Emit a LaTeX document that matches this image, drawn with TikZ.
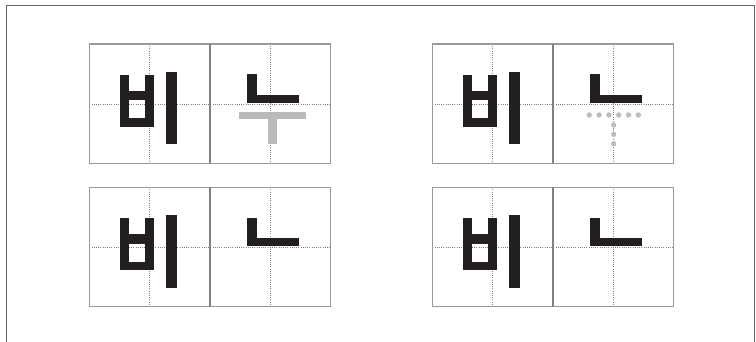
\documentclass[tikz,border=0pt]{standalone}
\definecolor{ink}{HTML}{231F20}
\tikzset{
  glyph/.style={fill=ink},
  ghost/.style={fill=black!27},
  gdot/.style={fill=black!26},
  cell/.style={draw=black!40, line width=1.2pt},
  divider/.style={draw=black!50, line width=1.8pt},
  guide/.style={draw=black!50, line width=0.5pt, dash pattern=on 0.8pt off 1.4pt},
  frame/.style={draw=black!60, line width=1.5pt},
  pics/panel/.style={code={
    % guides
    \draw[guide] (60,0) -- (60,119.5);
    \draw[guide] (181,0) -- (181,119.5);
    \draw[guide] (0,60) -- (241,60);
    % cells
    \draw[cell] (0,0) rectangle (241,119.5);
    \draw[divider] (120.5,0) -- (120.5,119.5);
    % bi
    \fill[glyph] (30.7,31) rectangle (40,82.7);
    \fill[glyph] (56,31) rectangle (64.9,82.7);
    \fill[glyph] (30.7,47) rectangle (64.9,56.3);
    \fill[glyph] (30.7,74.3) rectangle (64.9,82.7);
    \fill[glyph] (76.7,27.7) rectangle (87.2,100.3);
    % nieun
    \fill[glyph] (158,30.3) rectangle (167.3,59);
    \fill[glyph] (158,51) rectangle (210,59);
  }}
}
\begin{document}
\begin{tikzpicture}[x=1pt,y=-1pt]
  \useasboundingbox (0,0) rectangle (756,342);
  \fill[white] (0,0) rectangle (756,342);
  \draw[frame] (6.5,342) -- (6.5,5.5) -- (754.7,5.5) -- (754.7,342);

  \pic (p1) at (89.3,44) {panel};
  \pic (p2) at (432.3,44) {panel};
  \pic (p3) at (89.3,187.3) {panel};
  \pic (p4) at (432.3,187.3) {panel};

  % ghost u vowel (top-left panel)
  \begin{scope}[shift={(89.3,44)}]
    \fill[ghost] (150,67.7) rectangle (216.7,75);
    \fill[ghost] (178.4,75) rectangle (187.7,99.7);
  \end{scope}

  % dotted u vowel (top-right panel)
  \begin{scope}[shift={(432.3,44)}]
    \foreach \i in {0,...,5}
      \fill[gdot] (157+9.8*\i,71) circle (2.7);
    \foreach \yy in {81,90.3,99.7}
      \fill[gdot] (181.4,\yy) circle (2.7);
  \end{scope}
\end{tikzpicture}
\end{document}
